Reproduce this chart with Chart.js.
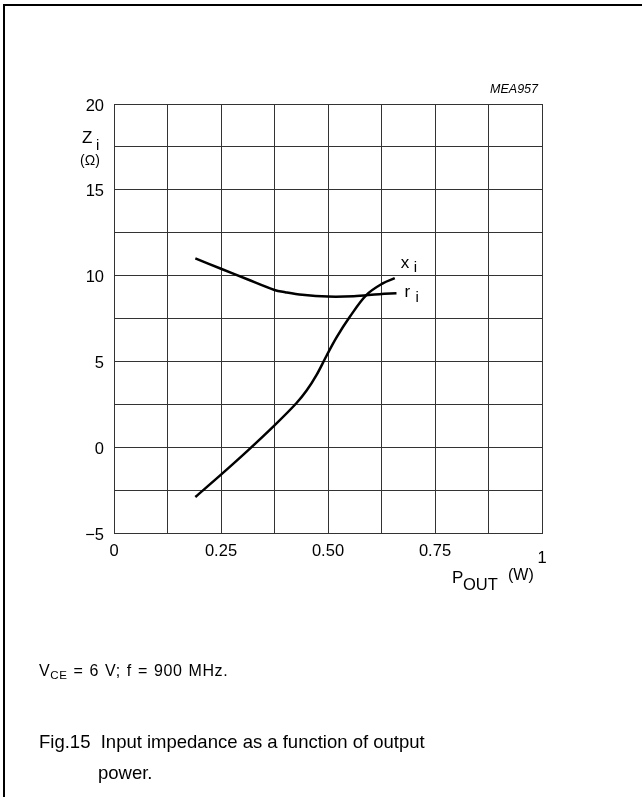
<!DOCTYPE html>
<html><head><meta charset="utf-8">
<script src="https://cdn.jsdelivr.net/npm/chart.js@4.4.1/dist/chart.umd.min.js"></script>
<style>
html,body{margin:0;padding:0;background:#fff;width:642px;height:797px;overflow:hidden;font-family:"Liberation Sans",Arial,sans-serif;}
#frame{position:absolute;left:3px;top:4px;width:700px;height:900px;border-left:2px solid #000;border-top:2px solid #000;}
canvas{position:absolute;left:0;top:0;}
.t{position:absolute;color:#000;white-space:nowrap;line-height:1;}
.t sub{font-size:0.72em;vertical-align:-0.3em;line-height:0;}
</style></head><body>
<div id="frame"></div>
<canvas id="c" width="642" height="797"></canvas>
<div class="t" style="left:39px;top:663px;font-size:16px;letter-spacing:0.6px;word-spacing:1px">V<sub>CE</sub> = 6 V; f = 900 MHz.</div>
<div class="t" style="left:39px;top:733px;font-size:18.5px">Fig.15&nbsp;&nbsp;Input impedance as a function of output</div>
<div class="t" style="left:98px;top:764px;font-size:18.5px">power.</div>
<script>
// ---- data ----
const pOutR = [0.19, 0.25, 0.31, 0.375, 0.40, 0.44, 0.50, 0.56, 0.62, 0.66];
const rI    = [11.0, 10.4, 9.8, 9.16, 9.03, 8.88, 8.78, 8.80, 8.92, 8.97];
const pOutX = [0.19, 0.25, 0.3125, 0.375, 0.426, 0.45, 0.473, 0.496, 0.52, 0.551, 0.59, 0.628, 0.656];
const xI    = [-2.9, -1.6, -0.2, 1.27, 2.56, 3.3, 4.2, 5.3, 6.4, 7.6, 8.88, 9.55, 9.85];
const xTickValues = [0, 0.25, 0.5, 0.75, 1];
const xTickLabels = ['0', '0.25', '0.50', '0.75', '1'];
const yTickValues = [20, 15, 10, 5, 0, -5];
const yTickLabels = ['20', '15', '10', '5', '0', '\u22125'];

const FONT = '"Liberation Sans", Arial, sans-serif';
const GRID = '#333333';

const textPlugin = {
  id: 'texts',
  afterDraw(chart) {
    const {ctx, scales: {x, y}} = chart;
    ctx.save();
    ctx.fillStyle = '#000';
    // y tick labels
    ctx.font = '16.5px ' + FONT;
    ctx.textAlign = 'right';
    ctx.textBaseline = 'middle';
    yTickValues.forEach((v, i) => ctx.fillText(yTickLabels[i], x.left - 10, y.getPixelForValue(v) + 2));
    // x tick labels
    ctx.textAlign = 'center';
    ctx.textBaseline = 'alphabetic';
    xTickValues.forEach((v, i) => {
      const extra = (v === 1) ? 7 : 0;
      ctx.fillText(xTickLabels[i], x.getPixelForValue(v), y.bottom + 23 + extra);
    });
    // y axis title Z_i (Ω)
    ctx.textAlign = 'left';
    ctx.font = '17px ' + FONT;
    ctx.fillText('Z', 82, 143);
    ctx.font = '15px ' + FONT;
    ctx.fillText('i', 96, 150);
    ctx.font = '14px ' + FONT;
    ctx.fillText('(\u03A9)', 80, 165);
    // x axis title P_OUT (W)
    ctx.font = '17px ' + FONT;
    ctx.fillText('P', 452, 583);
    ctx.font = '16.5px ' + FONT;
    ctx.fillText('OUT', 463, 590);
    ctx.font = '16px ' + FONT;
    ctx.fillText('(W)', 508, 580);
    // figure code
    ctx.font = 'italic 12.5px ' + FONT;
    ctx.textAlign = 'right';
    ctx.fillText('MEA957', x.right - 4, 93);
    // curve labels
    ctx.textAlign = 'left';
    const lx = x.getPixelForValue(pOutX[pOutX.length - 1]);
    const lxy = y.getPixelForValue(xI[xI.length - 1]);
    ctx.font = '17px ' + FONT;
    ctx.fillText('x', lx + 6, lxy - 10);
    ctx.font = '15px ' + FONT;
    ctx.fillText('i', lx + 19, lxy - 6);
    const rx = x.getPixelForValue(pOutR[pOutR.length - 1]);
    const ry = y.getPixelForValue(rI[rI.length - 1]);
    ctx.font = '17px ' + FONT;
    ctx.fillText('r', rx + 8, ry + 4);
    ctx.font = '15px ' + FONT;
    ctx.fillText('i', rx + 19, ry + 9);
    ctx.restore();
  }
};

new Chart(document.getElementById('c'), {
  type: 'scatter',
  data: {
    datasets: [
      {label: 'r_i', data: pOutR.map((v, i) => ({x: v, y: rI[i]})), showLine: true,
       borderColor: '#000', borderWidth: 2.5, pointRadius: 0, tension: 0.35},
      {label: 'x_i', data: pOutX.map((v, i) => ({x: v, y: xI[i]})), showLine: true,
       borderColor: '#000', borderWidth: 2.5, pointRadius: 0, tension: 0.35}
    ]
  },
  options: {
    responsive: false,
    animation: false,
    devicePixelRatio: 1,
    layout: {padding: {left: 114, top: 104, right: 100, bottom: 264}},
    plugins: {legend: {display: false}, tooltip: {enabled: false}},
    scales: {
      x: {type: 'linear', min: 0, max: 1,
          ticks: {stepSize: 0.125, display: false},
          grid: {color: GRID, lineWidth: 1, drawTicks: false, tickLength: 0},
          border: {color: GRID, width: 1}},
      y: {type: 'linear', min: -5, max: 20,
          ticks: {stepSize: 2.5, display: false},
          grid: {color: GRID, lineWidth: 1, drawTicks: false, tickLength: 0},
          border: {color: GRID, width: 1}}
    }
  },
  plugins: [textPlugin]
});
</script>
</body></html>
